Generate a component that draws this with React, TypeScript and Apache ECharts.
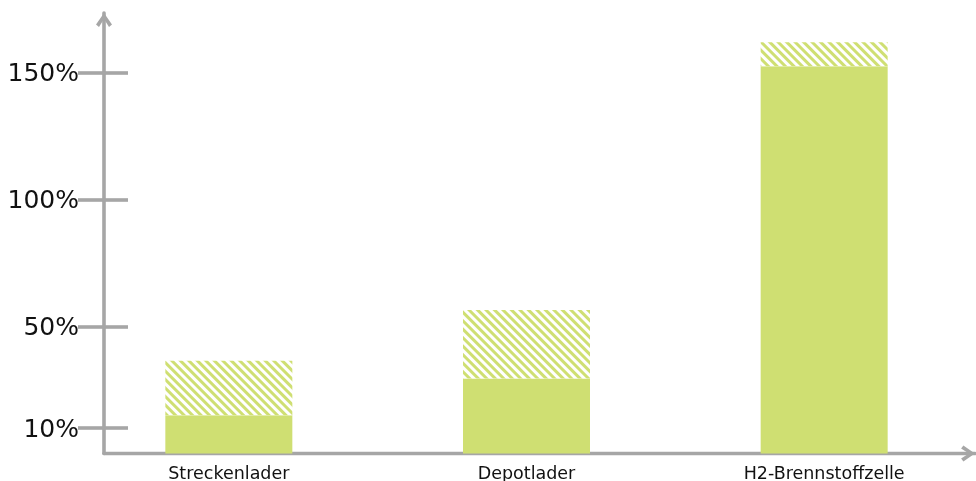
import React, { useEffect, useRef } from "react";
import * as echarts from "echarts";

const categories = ["Streckenlader", "Depotlader", "H2-Brennstoffzelle"];
const baseValues = [15, 29.5, 152.5];
const rangeValues = [21.5, 27, 9.5];
const tickValues = [10, 50, 100, 150];

const GREEN = "#cfdf72";
const GREY = "#a6a6a6";
const Y_MAX = 173.5;
const ARROW = "path://M8,0 L16,11.5 L13,13.8 L8,6 L3,13.8 L0,11.5 Z";

export default function App() {
  const ref = useRef<HTMLDivElement>(null);
  useEffect(() => {
    if (!ref.current) return;
    const chart = echarts.init(ref.current, undefined, { renderer: "svg" });
    const top = 13;
    const bottom = 27.6;
    chart.setOption({
      animation: false,
      grid: [
        { left: 80, right: 3, top, bottom, containLabel: false, outerBoundsMode: "none" },
        { left: 104, right: 1, top, bottom, containLabel: false, outerBoundsMode: "none" },
      ],
      xAxis: [
        {
          type: "category",
          gridIndex: 0,
          data: categories,
          axisLine: { show: false },
          axisTick: { show: false },
          axisLabel: {
            margin: 11,
            color: "#111",
            fontFamily: "DejaVu Sans",
            fontSize: 17.5,
          },
        },
        {
          type: "value",
          gridIndex: 1,
          min: 0,
          max: 1,
          offset: 1.6,
          axisLine: {
            show: true,
            symbol: ["none", ARROW],
            symbolSize: [16, 14],
            symbolOffset: [0, -7],
            lineStyle: { color: GREY, width: 3.4 },
          },
          axisTick: { show: false },
          axisLabel: { show: false },
          splitLine: { show: false },
        },
      ],
      yAxis: [
        {
          type: "value",
          gridIndex: 0,
          min: 0,
          max: Y_MAX,
          show: false,
        },
        {
          type: "value",
          gridIndex: 1,
          min: 0,
          max: Y_MAX,
          position: "left",
          axisLine: {
            show: true,
            symbol: ["none", ARROW],
            symbolSize: [16, 14],
            symbolOffset: [0, -7],
            lineStyle: { color: GREY, width: 3.6 },
          },
          axisTick: {
            show: true,
            length: 26,
            customValues: tickValues,
            lineStyle: { color: GREY, width: 3.6 },
          },
          axisLabel: {
            show: true,
            customValues: tickValues,
            formatter: "{value}%",
            margin: 25,
            padding: [4, 0, 0, 0],
            color: "#111",
            fontFamily: "DejaVu Sans",
            fontSize: 25,
          },
          splitLine: { show: false },
        },
        {
          type: "value",
          gridIndex: 1,
          min: 0,
          max: Y_MAX,
          position: "left",
          axisLine: { show: false },
          axisTick: {
            show: true,
            inside: true,
            length: 24,
            customValues: tickValues,
            lineStyle: { color: GREY, width: 3.6 },
          },
          axisLabel: { show: false },
          splitLine: { show: false },
        },
      ],
      series: [
        {
          type: "bar",
          xAxisIndex: 0,
          yAxisIndex: 0,
          stack: "total",
          barWidth: 127,
          data: baseValues,
          itemStyle: { color: GREEN },
        },
        {
          type: "bar",
          xAxisIndex: 0,
          yAxisIndex: 0,
          stack: "total",
          barWidth: 127,
          data: rangeValues,
          itemStyle: {
            color: "#ffffff",
            decal: {
              symbol: "rect",
              color: GREEN,
              backgroundColor: "#ffffff",
              dashArrayX: [1, 0],
              dashArrayY: [3, 3],
              rotation: Math.PI / 4,
            },
          },
        },
      ],
    });
    return () => chart.dispose();
  }, []);
  return (
    <div
      ref={ref}
      style={{ position: "fixed", left: 0, top: 0, width: 976, height: 481 }}
    />
  );
}
